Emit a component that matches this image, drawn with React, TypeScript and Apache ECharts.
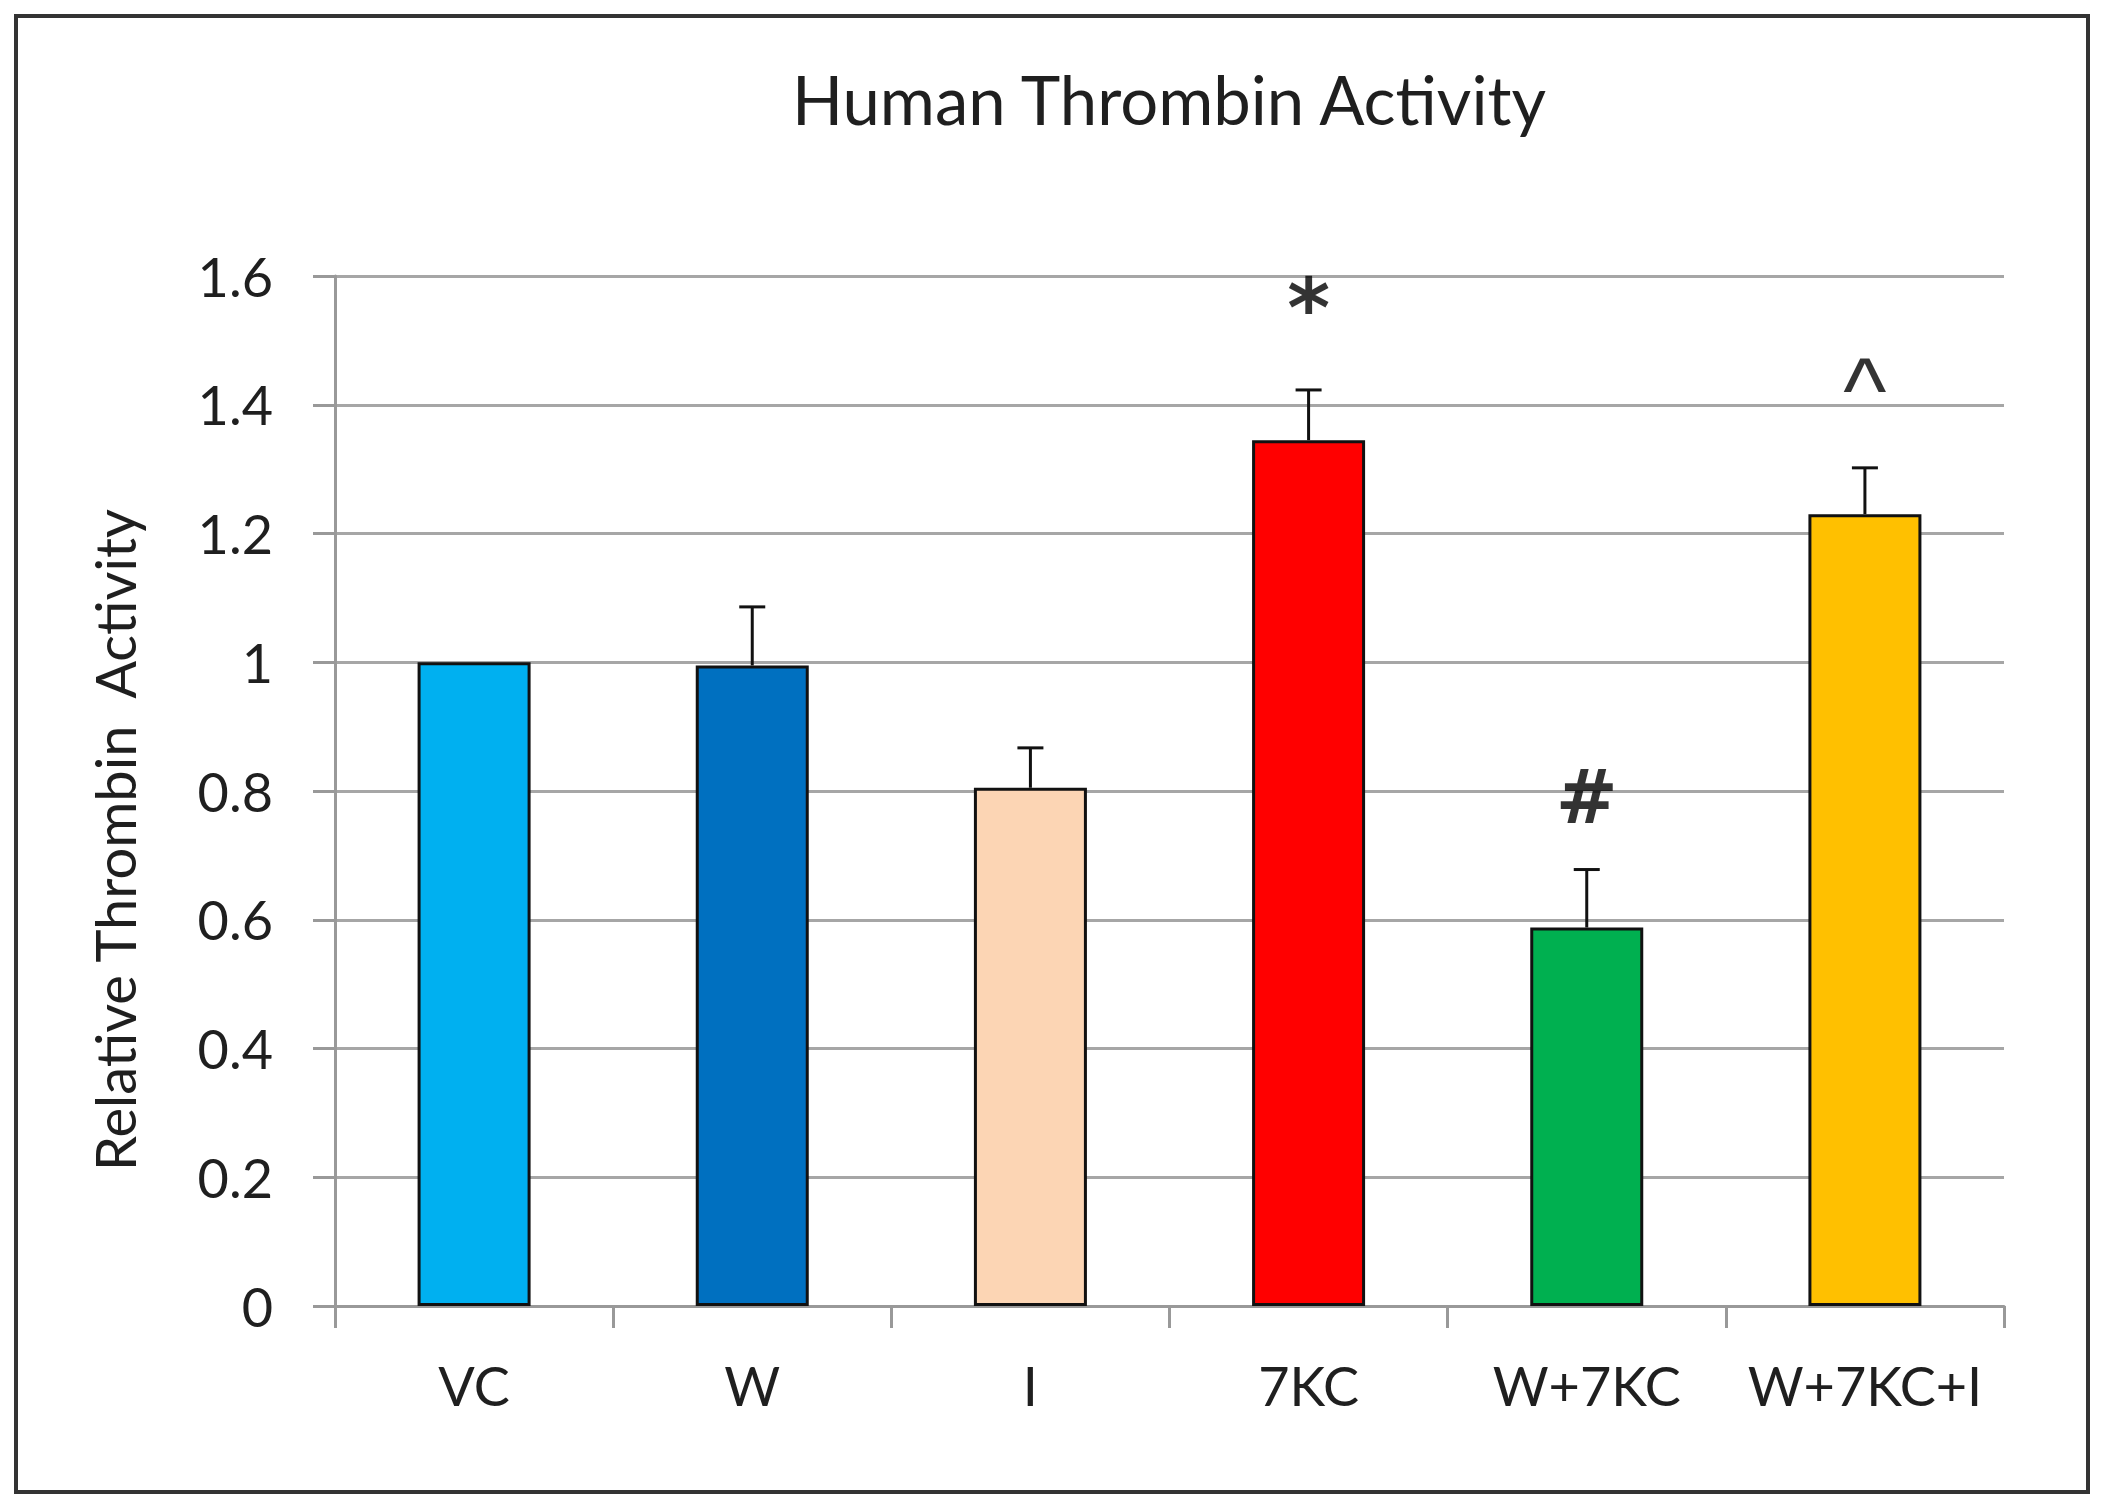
import React, { useEffect, useRef } from "react";
import * as echarts from "echarts";

const categories = ["VC", "W", "I", "7KC", "W+7KC", "W+7KC+I"];
const values = [1.0, 0.995, 0.805, 1.345, 0.588, 1.23];
const errorTops = [1.0, 1.086, 0.867, 1.423, 0.678, 1.302];
const barColors = ["#00B0F0", "#0070C0", "#FCD5B4", "#FF0000", "#00B050", "#FFC000"];
const annotationTexts = ["", "", "", "*", "#", "^"];
const annotationY = [null, null, null, 1.55, 0.79, 1.422];
const yTicks = [0, 0.2, 0.4, 0.6, 0.8, 1, 1.2, 1.4, 1.6];

const FONT = "Lato, 'Open Sans', sans-serif";
const TEXT = "#1f1f1f";

export default function App() {
  const ref = useRef<HTMLDivElement>(null);
  useEffect(() => {
    if (!ref.current) return;
    const chart = echarts.init(ref.current, null, { renderer: "svg" });
    const errData = categories.map((c, i) => [i, errorTops[i], values[i]]);
    const annStyle: Record<string, any> = {
      "*": { fontSize: 82, fontWeight: "bold", fontFamily: "'DejaVu Sans', sans-serif" },
      "#": { fontSize: 74, fontWeight: "bold", fontFamily: "'DejaVu Sans', sans-serif" },
      "^": { fontSize: 92, fontWeight: "normal", fontFamily: "'Liberation Sans', Arial, sans-serif" },
    };
    const annData = categories
      .map((c, i) =>
        annotationY[i] == null
          ? null
          : { value: [i, annotationY[i]], text: annotationTexts[i], label: annStyle[annotationTexts[i]] }
      )
      .filter((d) => d != null);
    chart.setOption({
      animation: false,
      backgroundColor: "#ffffff",
      title: {
        text: "Human Thrombin Activity",
        left: 1164,
        top: 60,
        textAlign: "center",
        textStyle: { fontFamily: FONT, fontSize: 67, fontWeight: "normal", color: TEXT },
      },
      graphic: [
        {
          type: "rect",
          shape: { x: 16, y: 16, width: 2072, height: 1476 },
          style: { fill: "none", stroke: "#333333", lineWidth: 4 },
          silent: true,
        },
        {
          type: "text",
          x: 114,
          y: 840,
          rotation: Math.PI / 2,
          style: {
            text: "Relative Thrombin  Activity",
            fontFamily: FONT,
            fontSize: 56,
            fill: TEXT,
            align: "center",
            verticalAlign: "middle",
          },
          silent: true,
        },
      ],
      grid: { left: 335, right: 100, top: 276, bottom: 204, containLabel: false },
      xAxis: {
        type: "category",
        data: categories,
        axisLine: { show: true, lineStyle: { color: "#999999", width: 3 } },
        axisTick: { show: true, interval: 0, length: 22, lineStyle: { color: "#999999", width: 3 } },
        axisLabel: { interval: 0, fontFamily: FONT, fontSize: 54, color: TEXT, margin: 52 },
      },
      yAxis: {
        type: "value",
        min: 0,
        max: 1.6,
        interval: 0.2,
        axisLine: { show: true, lineStyle: { color: "#999999", width: 3 } },
        axisTick: { show: true, length: 22, lineStyle: { color: "#999999", width: 3 } },
        splitLine: { show: true, lineStyle: { color: "#a6a6a6", width: 3 } },
        axisLabel: {
          fontFamily: FONT,
          fontSize: 54,
          color: TEXT,
          margin: 62,
          formatter: (v: number) => {
            const t = yTicks.find((x) => Math.abs(x - v) < 1e-6);
            return t === undefined ? "" : String(t);
          },
        },
      },
      series: [
        {
          type: "bar",
          data: values.map((v, i) => ({
            value: v,
            itemStyle: { color: barColors[i], borderColor: "#111111", borderWidth: 3 },
          })),
          barWidth: 113,
          z: 2,
        },
        {
          type: "custom",
          data: errData,
          z: 3,
          renderItem: (params: any, api: any) => {
            const x = api.value(0);
            const top = api.value(1);
            const base = api.value(2);
            if (top <= base) return { type: "group", children: [] };
            const p1 = api.coord([x, base]);
            const p2 = api.coord([x, top]);
            const st = { stroke: "#111111", lineWidth: 3 };
            return {
              type: "group",
              children: [
                { type: "line", shape: { x1: p1[0], y1: p1[1], x2: p2[0], y2: p2[1] }, style: st },
                { type: "line", shape: { x1: p2[0] - 13, y1: p2[1], x2: p2[0] + 13, y2: p2[1] }, style: st },
              ],
            };
          },
        },
        {
          type: "scatter",
          data: annData,
          symbolSize: 1,
          itemStyle: { color: "rgba(0,0,0,0)" },
          z: 4,
          label: {
            show: true,
            position: "inside",
            formatter: (p: any) => p.data.text,
            fontFamily: FONT,
            fontSize: 66,
            color: "#000000",
          },
        },
      ],
    });
    return () => chart.dispose();
  }, []);
  return (
    <div
      ref={ref}
      style={{ position: "fixed", left: 0, top: 0, width: 2104, height: 1510, background: "#fff" }}
    />
  );
}
